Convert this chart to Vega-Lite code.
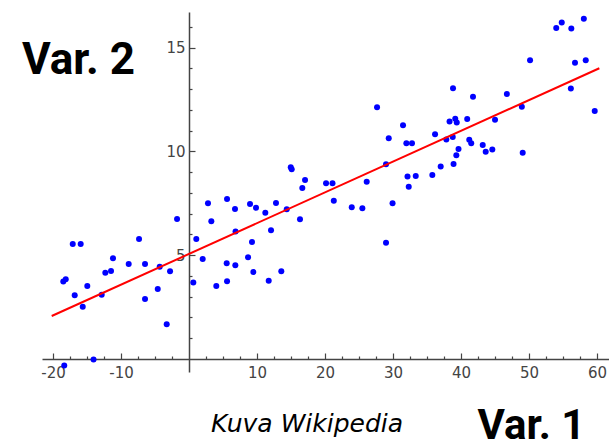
{
  "$schema": "https://vega.github.io/schema/vega-lite/v6.json",
  "width": 609,
  "height": 448,
  "padding": 0,
  "autosize": {"type": "none"},
  "background": "white",
  "config": {"view": {"stroke": null}, "axis": {"grid": false}},
  "title": {"text": "Kuva Wikipedia", "orient": "top", "anchor": "start", "frame": "group", "offset": 0, "dx": 211, "dy": 457, "baseline": "alphabetic", "font": "DejaVu Sans", "fontSize": 25, "fontStyle": "italic", "fontWeight": "normal", "color": "#000000"},
  "datasets": {
    "points": [
      {"x": -18.49, "y": 3.73}, {"x": -18.13, "y": 3.84}, {"x": -17.10, "y": 5.54}, {"x": -15.93, "y": 5.54},
      {"x": -16.81, "y": 3.07}, {"x": -15.63, "y": 2.52}, {"x": -14.96, "y": 3.52}, {"x": -12.84, "y": 3.10},
      {"x": -12.31, "y": 4.16}, {"x": -11.47, "y": 4.24}, {"x": -11.18, "y": 4.85}, {"x": -8.87, "y": 4.58},
      {"x": -7.35, "y": 5.78}, {"x": -6.47, "y": 4.58}, {"x": -6.47, "y": 2.89}, {"x": -4.60, "y": 3.37},
      {"x": -4.31, "y": 4.45}, {"x": -3.28, "y": 1.67}, {"x": -2.79, "y": 4.23}, {"x": -1.76, "y": 6.75},
      {"x": -14.04, "y": -0.03}, {"x": -18.35, "y": -0.31},
      {"x": 0.63, "y": 3.68}, {"x": 1.07, "y": 5.78}, {"x": 2.01, "y": 4.82}, {"x": 2.79, "y": 7.50},
      {"x": 3.28, "y": 6.64}, {"x": 4.01, "y": 3.52}, {"x": 5.59, "y": 7.71}, {"x": 5.59, "y": 3.74},
      {"x": 5.54, "y": 4.61}, {"x": 6.76, "y": 7.23}, {"x": 6.84, "y": 6.14}, {"x": 6.81, "y": 4.52},
      {"x": 8.68, "y": 4.90}, {"x": 8.97, "y": 7.47}, {"x": 9.26, "y": 5.64}, {"x": 9.46, "y": 4.19},
      {"x": 9.85, "y": 7.29}, {"x": 11.22, "y": 7.05}, {"x": 11.72, "y": 3.77}, {"x": 12.06, "y": 6.20},
      {"x": 12.79, "y": 7.52}, {"x": 13.57, "y": 4.23}, {"x": 14.37, "y": 7.21}, {"x": 14.96, "y": 9.24},
      {"x": 15.10, "y": 9.14}, {"x": 16.32, "y": 6.73}, {"x": 16.66, "y": 8.24}, {"x": 17.06, "y": 8.63},
      {"x": 20.15, "y": 8.47}, {"x": 21.10, "y": 8.47}, {"x": 21.29, "y": 7.63}, {"x": 23.93, "y": 7.31},
      {"x": 25.49, "y": 7.26}, {"x": 26.13, "y": 8.54}, {"x": 28.97, "y": 9.38}, {"x": 28.97, "y": 5.60},
      {"x": 29.93, "y": 7.50}, {"x": 32.13, "y": 8.79}, {"x": 33.34, "y": 8.82}, {"x": 32.31, "y": 8.30},
      {"x": 35.78, "y": 8.87}, {"x": 37.01, "y": 9.27}, {"x": 38.90, "y": 9.40}, {"x": 39.31, "y": 9.82},
      {"x": 39.63, "y": 10.12}, {"x": 43.63, "y": 9.99}, {"x": 44.60, "y": 10.10}, {"x": 49.07, "y": 9.94},
      {"x": 27.65, "y": 12.13}, {"x": 29.37, "y": 10.64}, {"x": 31.47, "y": 11.26}, {"x": 31.96, "y": 10.40},
      {"x": 32.79, "y": 10.40}, {"x": 36.18, "y": 10.83}, {"x": 37.84, "y": 10.58}, {"x": 38.78, "y": 10.70},
      {"x": 38.31, "y": 11.44}, {"x": 39.15, "y": 11.58}, {"x": 39.37, "y": 11.39}, {"x": 38.82, "y": 13.04},
      {"x": 40.91, "y": 11.57}, {"x": 41.76, "y": 12.64}, {"x": 41.21, "y": 10.57}, {"x": 41.50, "y": 10.40},
      {"x": 43.19, "y": 10.31}, {"x": 45.00, "y": 11.53}, {"x": 46.74, "y": 12.77}, {"x": 48.94, "y": 12.16},
      {"x": 50.15, "y": 14.40}, {"x": 54.00, "y": 15.95}, {"x": 54.81, "y": 16.21}, {"x": 56.22, "y": 15.93},
      {"x": 58.06, "y": 16.39}, {"x": 56.76, "y": 14.27}, {"x": 58.34, "y": 14.39}, {"x": 56.15, "y": 13.03},
      {"x": 59.66, "y": 11.95}
    ],
    "fit": [{"x": -20.19, "y": 2.07}, {"x": 60.34, "y": 14.01}]
  },
  "resolve": {"axis": {"x": "independent", "y": "independent"}},
  "layer": [
    {
      "data": {"name": "points"},
      "mark": {"type": "circle", "size": 36, "color": "#0000ff", "opacity": 1},
      "encoding": {
        "x": {
          "field": "x", "type": "quantitative",
          "scale": {"domain": [-21.62, 61.76], "range": [42, 609], "nice": false, "zero": false},
          "axis": {
            "orient": "bottom", "offset": -89,
            "values": [-20, -10, 10, 20, 30, 40, 50, 60],
            "domainColor": "#444444", "domainWidth": 1.5, "tickColor": "#444444", "tickWidth": 1.2,
            "tickSize": -6,
            "labelExpr": "toString(datum.value)",
            "labelPadding": 12, "labelBaseline": "top", "labelAlign": "center",
            "labelFont": "DejaVu Sans", "labelFontSize": 15, "labelColor": "#444444",
            "labelOverlap": false, "labelFlush": false,
            "title": "Var. 1", "titleX": 477, "titleY": 79, "titleAlign": "left", "titleBaseline": "alphabetic",
            "titleFont": "Roboto", "titleFontSize": 42, "titleFontWeight": "bold", "titleColor": "#000000"
          }
        },
        "y": {
          "field": "y", "type": "quantitative",
          "scale": {"domain": [-0.627, 16.72], "range": [372, 12], "nice": false, "zero": false},
          "axis": {
            "orient": "left", "offset": -189,
            "values": [5, 10, 15],
            "domainColor": "#444444", "domainWidth": 1.5, "tickColor": "#444444", "tickWidth": 1.2,
            "tickSize": -6,
            "labelExpr": "toString(datum.value)",
            "labelPadding": 10, "labelBaseline": "middle", "labelAlign": "right",
            "labelFont": "DejaVu Sans", "labelFontSize": 15, "labelColor": "#444444",
            "labelOverlap": false, "labelFlush": false,
            "title": "Var. 2", "titleAngle": 0, "titleX": -167.5, "titleY": 73, "titleAlign": "left", "titleBaseline": "alphabetic",
            "titleFont": "Roboto", "titleFontSize": 44, "titleFontWeight": "bold", "titleColor": "#000000"
          }
        }
      }
    },
    {
      "data": {"name": "fit"},
      "mark": {"type": "line", "color": "#ff0000", "strokeWidth": 2},
      "encoding": {
        "x": {
          "field": "x", "type": "quantitative",
          "axis": {
            "orient": "bottom", "offset": -89,
            "values": [-17.5, -15, -12.5, -7.5, -5, -2.5, 2.5, 5, 7.5, 12.5, 15, 17.5, 22.5, 25, 27.5, 32.5, 35, 37.5, 42.5, 45, 47.5, 52.5, 55, 57.5],
            "domain": false, "labels": false, "title": null,
            "tickColor": "#444444", "tickWidth": 1.2, "tickSize": -3
          }
        },
        "y": {
          "field": "y", "type": "quantitative",
          "axis": {
            "orient": "left", "offset": -189,
            "values": [1, 2, 3, 4, 6, 7, 8, 9, 11, 12, 13, 14, 16],
            "domain": false, "labels": false, "title": null,
            "tickColor": "#444444", "tickWidth": 1.2, "tickSize": -3
          }
        }
      }
    }
  ]
}
